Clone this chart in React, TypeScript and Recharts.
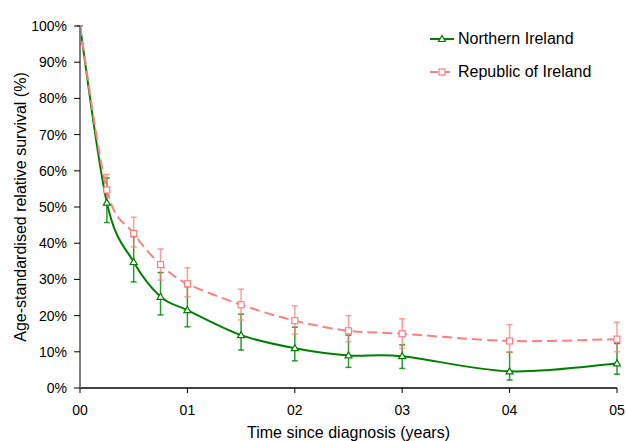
import React from "react";
import { LineChart, Line, XAxis, YAxis, ErrorBar, Legend } from "recharts";

// time since diagnosis (years)
const times = [0, 0.25, 0.5, 0.75, 1, 1.5, 2, 2.5, 3, 4, 5];

// Northern Ireland: estimate and 95% CI
const niSurvival = [100, 51.2, 34.8, 25.2, 21.5, 14.6, 11.0, 9.0, 8.8, 4.6, 6.8];
const niLower = [100, 45.7, 29.3, 20.2, 16.9, 10.5, 7.5, 5.7, 5.4, 2.2, 3.8];
const niUpper = [100, 58.0, 41.8, 31.9, 28.0, 20.4, 16.8, 14.6, 11.9, 9.9, 12.3];

// Republic of Ireland: estimate and 95% CI
const roiSurvival = [100, 54.7, 42.7, 34.1, 28.8, 23.0, 18.6, 15.8, 15.0, 13.0, 13.5];
const roiLower = [100, 50.5, 39.0, 29.8, 25.2, 18.8, 14.9, 12.8, 11.0, 9.9, 10.0];
const roiUpper = [100, 59.0, 47.2, 38.4, 33.2, 27.3, 22.7, 20.0, 19.1, 17.5, 18.2];

const xTicks = [0, 1, 2, 3, 4, 5];
const xTickLabels = ["00", "01", "02", "03", "04", "05"];
const yTicks = [0, 10, 20, 30, 40, 50, 60, 70, 80, 90, 100];

const GREEN = "#008000";
const PINK = "#ff7f7f";

const data = times.map((t, i) => ({
  t,
  ni: niSurvival[i],
  niErr: [niSurvival[i] - niLower[i], niUpper[i] - niSurvival[i]],
  roi: roiSurvival[i],
  roiErr: [roiSurvival[i] - roiLower[i], roiUpper[i] - roiSurvival[i]],
}));

// Excel-like smoothed line (uniform Catmull-Rom as bezier segments)
const smoothCurve = (context: any) => {
  let pts: number[][] = [];
  return {
    areaStart() {},
    areaEnd() {},
    lineStart() {
      pts = [];
    },
    point(x: number, y: number) {
      pts.push([+x, +y]);
    },
    lineEnd() {
      if (!pts.length) return;
      context.moveTo(pts[0][0], pts[0][1]);
      for (let i = 0; i < pts.length - 1; i++) {
        const p0 = pts[i - 1] || pts[i];
        const p1 = pts[i];
        const p2 = pts[i + 1];
        const p3 = pts[i + 2] || p2;
        context.bezierCurveTo(
          p1[0] + (p2[0] - p0[0]) / 6,
          p1[1] + (p2[1] - p0[1]) / 6,
          p2[0] - (p3[0] - p1[0]) / 6,
          p2[1] - (p3[1] - p1[1]) / 6,
          p2[0],
          p2[1]
        );
      }
    },
  };
};

const TriangleDot = (props: any) => {
  const { cx, cy, index } = props;
  if (index === 0 || cx == null) return <g key={`tri-${index}`} />;
  return (
    <polygon
      key={`tri-${index}`}
      points={`${cx},${cy - 3.5} ${cx - 3.5},${cy + 2.5} ${cx + 3.5},${cy + 2.5}`}
      fill="#fff"
      stroke={GREEN}
      strokeWidth={1.2}
    />
  );
};

const SquareDot = (props: any) => {
  const { cx, cy, index } = props;
  if (index === 0 || cx == null) return <g key={`sq-${index}`} />;
  return (
    <rect
      key={`sq-${index}`}
      x={cx - 3}
      y={cy - 3}
      width={6}
      height={6}
      fill="#fff"
      stroke={PINK}
      strokeWidth={1.2}
    />
  );
};

const renderLegend = () => (
  <div style={{ fontSize: 16, color: "#000", lineHeight: "20px" }}>
    <div style={{ display: "flex", alignItems: "center", height: 20, marginBottom: 13 }}>
      <svg width={30} height={20}>
        <line x1={2} y1={10} x2={26} y2={10} stroke={GREEN} strokeWidth={2} />
        <polygon points="14,6.5 10.5,12.5 17.5,12.5" fill="#fff" stroke={GREEN} strokeWidth={1.2} />
      </svg>
      <span>Northern Ireland</span>
    </div>
    <div style={{ display: "flex", alignItems: "center", height: 20 }}>
      <svg width={30} height={20}>
        <line x1={2} y1={10} x2={26} y2={10} stroke={PINK} strokeWidth={2} strokeDasharray="8 4" />
        <rect x={11} y={7} width={6} height={6} fill="#fff" stroke={PINK} strokeWidth={1.2} />
      </svg>
      <span>Republic of Ireland</span>
    </div>
  </div>
);

export default function App() {
  return (
    <div
      style={{
        position: "absolute",
        left: 0,
        top: 0,
        width: 626,
        height: 441,
        background: "#fff",
        fontFamily: "'Liberation Sans', Arial, sans-serif",
      }}
    >
      <LineChart width={626} height={441} data={data} margin={{ top: 26, right: 9, left: 0, bottom: 0 }}>
        <XAxis
          dataKey="t"
          type="number"
          domain={[0, 5]}
          ticks={xTicks}
          tickFormatter={(v: number) => xTickLabels[xTicks.indexOf(v)]}
          height={53}
          tickSize={5}
          tickMargin={12}
          tick={{ fontSize: 14, fill: "#000" }}
          axisLine={{ stroke: "#000", strokeWidth: 1.5 }}
          tickLine={{ stroke: "#000" }}
          label={{
            value: "Time since diagnosis (years)",
            position: "insideBottom",
            offset: 3,
            fontSize: 16,
            fill: "#000",
          }}
        />
        <YAxis
          type="number"
          domain={[0, 100]}
          ticks={yTicks}
          allowDataOverflow
          width={80}
          tickSize={6}
          tickMargin={7}
          tickFormatter={(v: number) => `${v}%`}
          tick={{ fontSize: 14, fill: "#000" }}
          axisLine={{ stroke: "#808080", strokeWidth: 2 }}
          tickLine={{ stroke: "#000" }}
          label={{
            value: "Age-standardised relative survival (%)",
            angle: -90,
            position: "insideLeft",
            offset: 20,
            fontSize: 16,
            fill: "#000",
            style: { textAnchor: "middle" },
          }}
        />
        <Legend
          layout="vertical"
          align="center"
          verticalAlign="middle"
          content={renderLegend}
          wrapperStyle={{ top: 29, left: 428, width: 200 }}
        />
        <Line
          dataKey="ni"
          name="Northern Ireland"
          type={smoothCurve as any}
          stroke={GREEN}
          strokeWidth={2}
          dot={TriangleDot}
          activeDot={false}
          isAnimationActive={false}
        >
          <ErrorBar dataKey="niErr" width={3} stroke={GREEN} strokeWidth={1.5} strokeOpacity={0.8} />
        </Line>
        <Line
          dataKey="roi"
          name="Republic of Ireland"
          type={smoothCurve as any}
          stroke={PINK}
          strokeWidth={2}
          strokeDasharray="10 5"
          dot={SquareDot}
          activeDot={false}
          isAnimationActive={false}
        >
          <ErrorBar dataKey="roiErr" width={3} stroke={PINK} strokeWidth={1.5} strokeOpacity={0.75} />
        </Line>
      </LineChart>
    </div>
  );
}
